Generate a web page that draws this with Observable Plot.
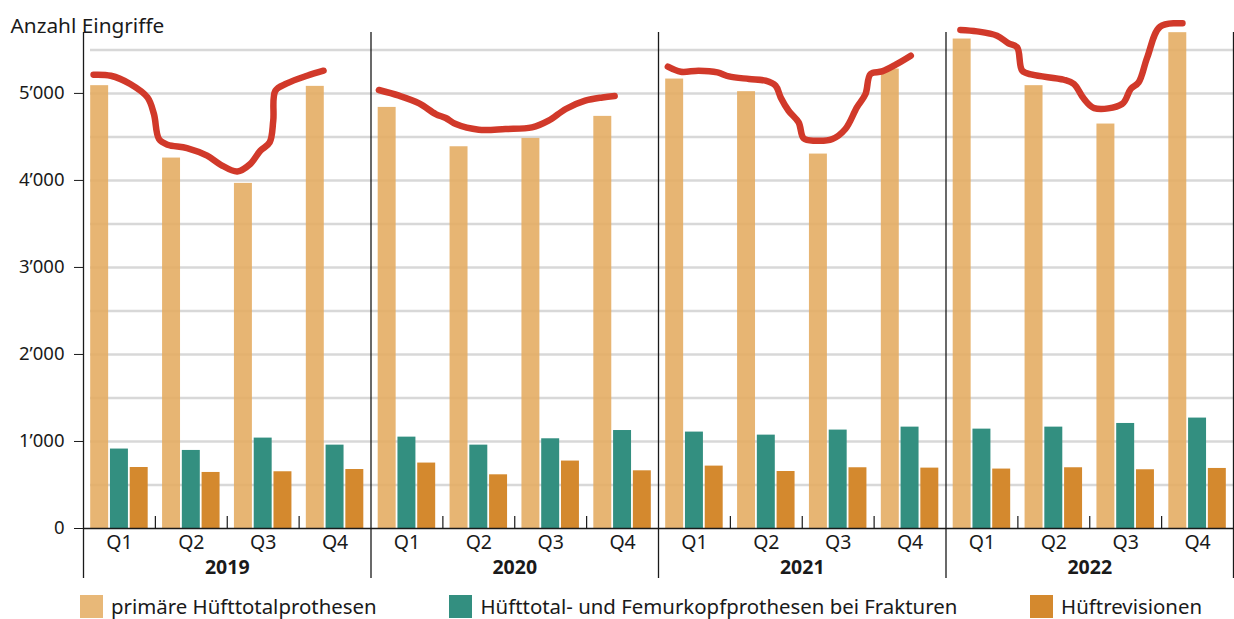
<!DOCTYPE html>
<html><head><meta charset="utf-8">
<script src="https://cdn.jsdelivr.net/npm/d3@7"></script>
<script src="https://cdn.jsdelivr.net/npm/@observablehq/plot@0.6"></script>
<style>
body{margin:0;background:#fff;font-family:"Noto Sans",sans-serif;color:#1a1a1a;}
#legend{display:flex;justify-content:space-between;width:1122px;margin-left:80px;height:36px;align-items:center;font-size:20.4px;}
.item{display:flex;align-items:center}
.sw{width:23px;height:23px;margin-right:8px}
</style></head><body><div id="chart"></div><div id="legend"></div>
<script>
const title = "Anzahl Eingriffe";
const years = ["2019","2020","2021","2022"];
const quarters = ["Q1","Q2","Q3","Q4"];
const seriesNames = ["primäre Hüfttotalprothesen","Hüfttotal- und Femurkopfprothesen bei Frakturen","Hüftrevisionen"];
const seriesColors = ["#e4ab60","#338f80","#d4892e"];
const primary   = [5089,4257,3966,5081, 4839,4387,4483,4736, 5165,5020,4303,5280, 5625,5089,4648,5698];
const fractures = [913,897,1039,958, 1050,958,1031,1126, 1108,1073,1131,1165, 1142,1165,1207,1269];
const revisions = [701,644,652,678, 752,617,775,663, 717,655,698,694, 683,698,675,690];
const yTicks = [0,1000,2000,3000,4000,5000];
const gridValues = [500,1000,1500,2000,2500,3000,3500,4000,4500,5000,5500];

// red curve: position within the year (in quarters) and value
const line2019T = [0.14,0.38,0.65,0.89,0.98,1.05,1.17,1.44,1.72,1.91,2.14,2.32,2.46,2.59,2.64,2.67,2.83,3.11,3.34];
const line2019V = [5215,5203,5108,4954,4763,4476,4410,4372,4284,4180,4103,4189,4341,4437,4686,5031,5115,5203,5261];
const line2020T = [0.11,0.39,0.67,0.90,1.04,1.18,1.50,1.87,2.24,2.47,2.71,2.98,3.22,3.39];
const line2020V = [5039,4974,4885,4763,4717,4648,4583,4591,4609,4686,4821,4916,4954,4970];
const line2021T = [0.13,0.31,0.56,0.82,0.98,1.26,1.49,1.63,1.70,1.81,1.95,2.02,2.18,2.42,2.60,2.76,2.88,2.95,3.11,3.30,3.51];
const line2021V = [5307,5249,5261,5241,5195,5166,5146,5089,4954,4801,4667,4483,4456,4476,4591,4839,4993,5223,5253,5330,5433];
const line2022T = [0.20,0.43,0.71,0.87,0.99,1.06,1.20,1.64,1.78,1.92,2.06,2.45,2.57,2.68,2.80,2.98,3.29];
const line2022V = [5729,5713,5663,5575,5529,5261,5215,5157,5108,4936,4832,4878,5051,5126,5414,5767,5805];

const lineT = [line2019T,line2020T,line2021T,line2022T];
const lineV = [line2019V,line2020V,line2021V,line2022V];
const lineData = [];
years.forEach((y,i)=>lineT[i].forEach((t,j)=>lineData.push({year:y, x:i*4+t, v:lineV[i][j]})));

const seriesValues = [primary, fractures, revisions];
const bars = [];
const periods = [];
years.forEach((y,i)=>quarters.forEach((q,k)=>{
  const p = i*4+k;
  periods.push({p, q, y});
  seriesValues.forEach((arr,s)=>bars.push({p, s, name:seriesNames[s], value:arr[p]}));
}));
const yearItems = years.map((y,i)=>({i,y}));
const bounds = d3.range(0,17);
const yearBounds = bounds.filter(b=>b%4===0);
const quarterBounds = bounds.filter(b=>b%4!==0);

const loc = d3.formatLocale({decimal:".", thousands:"\u2019", grouping:[3], currency:["",""]});
const fmt = loc.format(",d");

const chart = Plot.plot({
  width:1234, height:588,
  marginLeft:83, marginRight:1, marginTop:32, marginBottom:60,
  style:{fontFamily:'"Noto Sans", sans-serif', color:"#1a1a1a", background:"#fff"},
  x:{type:"linear", domain:[0,16], axis:null},
  y:{domain:[0,5700], axis:null},
  color:{domain:seriesNames, range:seriesColors},
  marks:[
    Plot.ruleY(gridValues, {stroke:"#d8d8d8", strokeWidth:2.5, insetLeft:7}),
    Plot.rectY(bars, {x1:d=>d.p+0.1+d.s*0.275, x2:d=>d.p+0.35+d.s*0.275, y:"value",
      fill:"name", fillOpacity:d=>d.s===0?0.88:1}),
    Plot.ruleY([0], {stroke:"#1a1a1a", strokeWidth:1.5}),
    Plot.ruleX(yearBounds, {stroke:"#1a1a1a", strokeWidth:1.3, insetBottom:-50}),
    Plot.ruleX(quarterBounds, {stroke:"#1a1a1a", strokeWidth:1.2, insetTop:484}),
    Plot.line(lineData, {x:"x", y:"v", z:"year", curve:"catmull-rom", stroke:"#d1392a",
      strokeWidth:6.5, strokeLinecap:"round", strokeLinejoin:"round"}),
    Plot.axisY(yTicks, {tickFormat:fmt, tickSize:9, tickPadding:10, fontSize:18.5, label:null, stroke:"#1a1a1a"}),
    Plot.text(periods, {x:d=>d.p+0.5, text:"q", frameAnchor:"bottom", dy:20, fontSize:19.5}),
    Plot.text(yearItems, {x:d=>d.i*4+2, text:"y", frameAnchor:"bottom", dy:45, fontSize:19.5, fontWeight:"bold"}),
    Plot.text([title], {frameAnchor:"top-left", dx:-73, dy:-14, textAnchor:"start", fontSize:20.8})
  ]
});
document.getElementById("chart").appendChild(chart);

const legend = document.getElementById("legend");
seriesNames.forEach((n,i)=>{
  const it = document.createElement("div"); it.className="item";
  const sw = document.createElement("div"); sw.className="sw";
  sw.style.background = i===0 ? "#e8b878" : seriesColors[i];
  const tx = document.createElement("span"); tx.textContent = n;
  it.appendChild(sw); it.appendChild(tx); legend.appendChild(it);
});
</script></body></html>
